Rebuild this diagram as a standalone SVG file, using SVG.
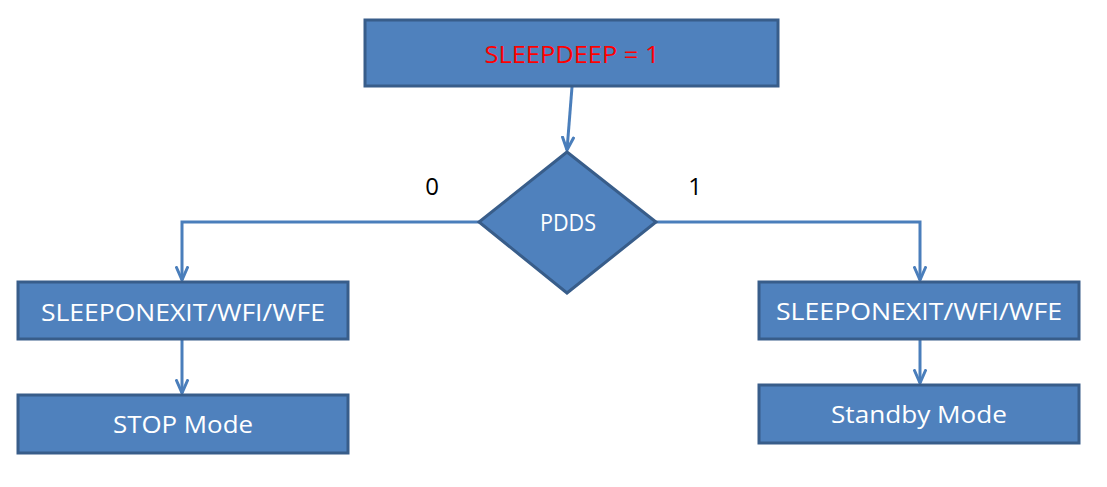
<svg xmlns="http://www.w3.org/2000/svg" width="1107" height="487" viewBox="0 0 1107 487">
<style>
.box{fill:#4F81BD;stroke:#385D8A;stroke-width:3}
.lbl{font-family:"Open Sans","Liberation Sans",Arial,sans-serif;font-size:24px;fill:#FFFFFF;text-anchor:middle}
.num{font-family:"Open Sans","Liberation Sans",Arial,sans-serif;font-size:24px;fill:#000000;text-anchor:middle}
.con{fill:none;stroke:#4A7EBB;stroke-width:3}
</style>
<defs>
<marker id="arr" viewBox="0 0 16 14" refX="14" refY="7" markerWidth="16" markerHeight="14" markerUnits="userSpaceOnUse" orient="auto">
<path d="M1.5,1.5 L14,7 L1.5,12.5" fill="none" stroke="#4A7EBB" stroke-width="3" stroke-linecap="round"/>
</marker>
</defs>
<rect width="1107" height="487" fill="#FFFFFF"/>
<g id="connectors">
<line class="con" x1="572" y1="87" x2="567" y2="150" marker-end="url(#arr)"/>
<polyline class="con" points="479,222 182,222 182,280" marker-end="url(#arr)"/>
<polyline class="con" points="656,222 920,222 920,280" marker-end="url(#arr)"/>
<line class="con" x1="182" y1="340" x2="182" y2="393" marker-end="url(#arr)"/>
<line class="con" x1="920" y1="340" x2="920" y2="383" marker-end="url(#arr)"/>
</g>
<g id="sleepdeep">
<rect class="box" x="365" y="20" width="413" height="66"/>
<text class="lbl" x="572" y="63" style="fill:#FF0000" textLength="175" lengthAdjust="spacingAndGlyphs">SLEEPDEEP = 1</text>
</g>
<g id="pdds">
<polygon class="box" points="567,152 656,222 567,293 479,222"/>
<text class="lbl" x="568" y="231" textLength="56" lengthAdjust="spacingAndGlyphs">PDDS</text>
</g>
<g id="label0"><text class="num" x="432" y="195">0</text></g>
<g id="label1"><text class="num" x="695" y="195">1</text></g>
<g id="left-exit">
<rect class="box" x="18" y="282" width="330" height="57"/>
<text class="lbl" x="183" y="321" textLength="284" lengthAdjust="spacingAndGlyphs">SLEEPONEXIT/WFI/WFE</text>
</g>
<g id="stop-mode">
<rect class="box" x="18" y="395" width="330" height="58"/>
<text class="lbl" x="183" y="433" textLength="140" lengthAdjust="spacingAndGlyphs">STOP Mode</text>
</g>
<g id="right-exit">
<rect class="box" x="759" y="282" width="320" height="57"/>
<text class="lbl" x="919" y="320" textLength="286" lengthAdjust="spacingAndGlyphs">SLEEPONEXIT/WFI/WFE</text>
</g>
<g id="standby-mode">
<rect class="box" x="759" y="385" width="320" height="58"/>
<text class="lbl" x="919" y="423" textLength="176" lengthAdjust="spacingAndGlyphs">Standby Mode</text>
</g>
</svg>
